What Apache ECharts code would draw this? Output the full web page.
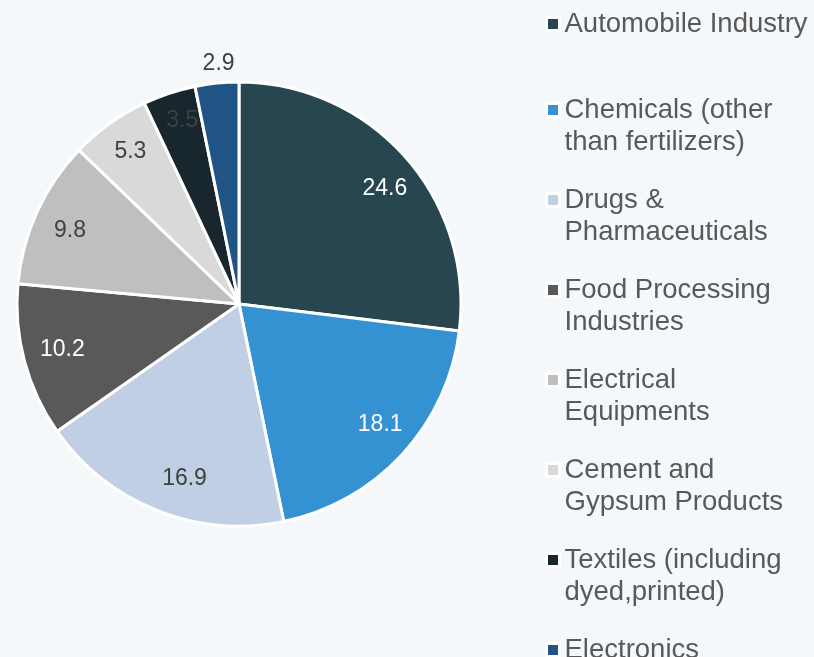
<!DOCTYPE html>
<html>
<head>
<meta charset="utf-8">
<script src="https://cdn.jsdelivr.net/npm/echarts@6/dist/echarts.min.js"></script>
<style>
html,body{margin:0;padding:0;background:#f5f8fa;}
#chart{width:814px;height:657px;}
</style>
</head>
<body>
<div id="chart"></div>
<script>
const categories = [
  'Automobile Industry',
  'Chemicals (other\nthan fertilizers)',
  'Drugs &\nPharmaceuticals',
  'Food Processing\nIndustries',
  'Electrical\nEquipments',
  'Cement and\nGypsum Products',
  'Textiles (including\ndyed,printed)',
  'Electronics'
];
const values = [24.6, 18.1, 16.9, 10.2, 9.8, 5.3, 3.5, 2.9];

const sliceColors = ['#27464f', '#3592d2', '#c0cfe4', '#595959', '#bfbfbf', '#d9d9d9', '#18272e', '#1f5484'];
const labelColors = ['#ffffff', '#ffffff', '#404040', '#ffffff', '#404040', '#404040', '#404040', '#404040'];

const center = [239, 304];
const FONT = 'Liberation Sans, Arial, sans-serif';
// label placement tweaks per slice: [dx, dy, labelRadius*2]
const labelPlace = [[5, 9, 370], [3, -7, 370], [15, 0, 370], [5, -3, 370], [2, 5, 370], [4, 4, 380], [4, 0, 380], [4, 3, 484]];

const chart = echarts.init(document.getElementById('chart'), null, {renderer: 'canvas'});

function labelSeries(idx) {
  const p = labelPlace[idx];
  return {
    type: 'pie',
    center: [center[0] + p[0], center[1] + p[1]],
    radius: [0, p[2]],
    startAngle: 90,
    clockwise: true,
    silent: true,
    legendHoverLink: false,
    animation: false,
    itemStyle: {color: 'rgba(0,0,0,0)', borderWidth: 0},
    emphasis: {disabled: true},
    labelLine: {show: false},
    data: categories.map((n, i) => ({
      name: n,
      value: values[i],
      label: {
        show: i === idx,
        position: 'inside',
        color: labelColors[i],
        fontSize: 23,
        fontFamily: FONT,
        formatter: () => String(values[i])
      }
    }))
  };
}

const legends = categories.map((n, i) => {
  const lines = n.split('\n').length;
  const markerCenter = i === 0 ? 22 : 108 + (i - 1) * 90;
  const prefix = lines > 1 ? '\n'.repeat(lines - 1) : '';
  return {
    orient: 'vertical',
    left: 540,
    top: markerCenter - 19 - (lines - 1) * 32,
    itemWidth: 13,
    itemHeight: 13,
    icon: 'rect',
    itemStyle: {borderColor: '#ffffff', borderWidth: 3},
    selectedMode: false,
    data: [{name: n}],
    formatter: name => prefix + name,
    textStyle: {
      color: '#595959',
      fontSize: 27.5,
      fontFamily: FONT,
      lineHeight: 32
    }
  };
});

chart.setOption({
  backgroundColor: '#f5f8fa',
  animation: false,
  color: sliceColors,
  legend: legends,
  series: [
    {
      type: 'pie',
      center: center,
      radius: [0, 222],
      startAngle: 90,
      clockwise: true,
      animation: false,
      itemStyle: {borderColor: '#ffffff', borderWidth: 3},
      label: {show: false},
      labelLine: {show: false},
      emphasis: {disabled: true},
      data: categories.map((n, i) => ({name: n, value: values[i]}))
    }
  ].concat(categories.map((n, i) => labelSeries(i)))
});
</script>
</body>
</html>
